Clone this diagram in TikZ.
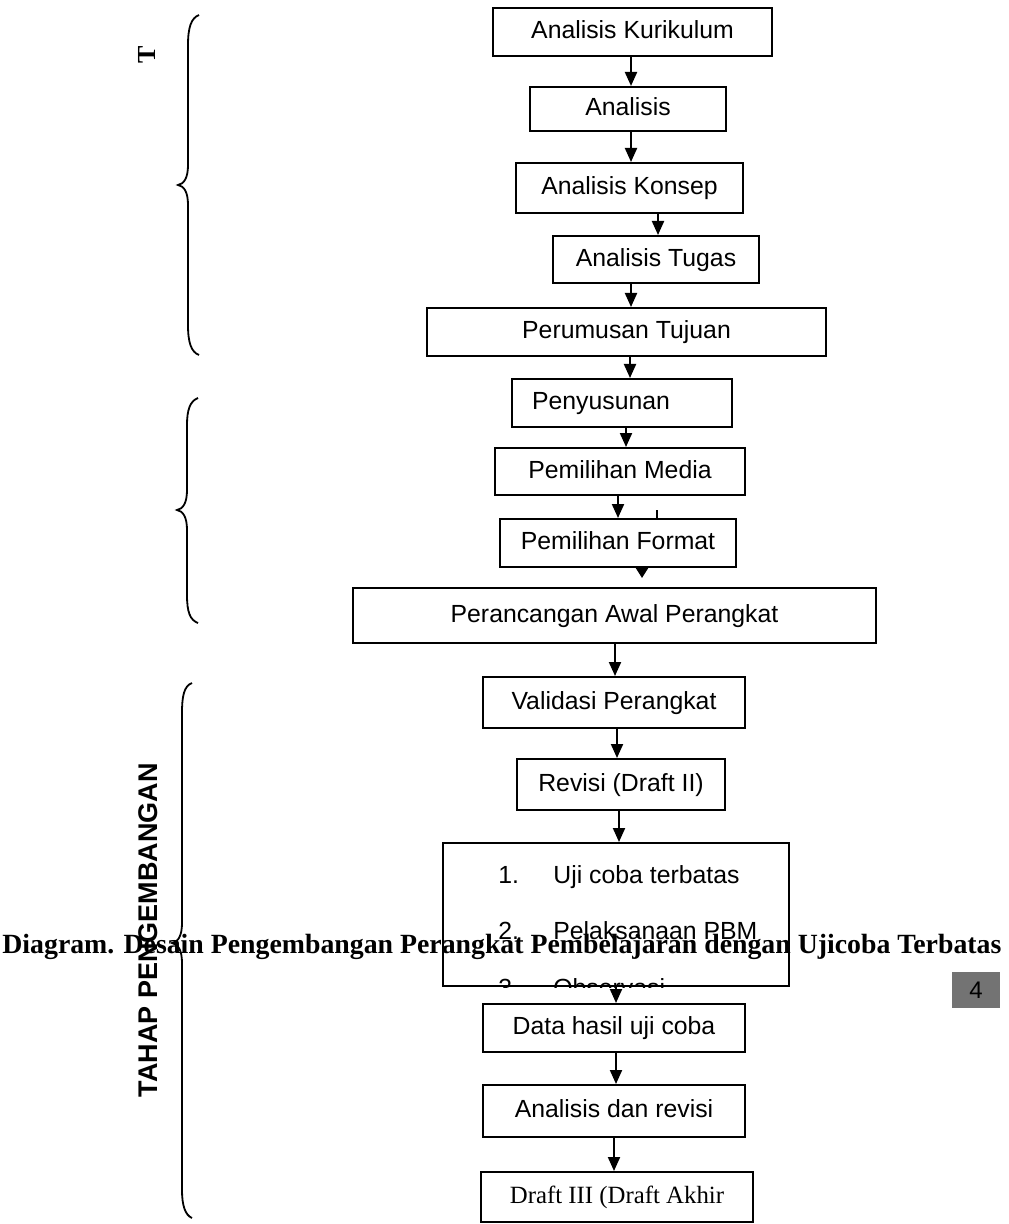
\documentclass[tikz,border=0pt]{standalone}
\usepackage{fontspec}
\setmainfont{Liberation Serif}
\setsansfont{Liberation Sans}
\usetikzlibrary{arrows.meta,calc}
\tikzset{
  px/.style={x=0.5pt,y=-0.5pt},
  box/.style={draw, line width=1pt, inner sep=0pt, fill=white,
    font=\sffamily\fontsize{12.4}{14}\selectfont, text height=9.2pt, text depth=2.6pt},
  arr/.style={line width=1pt, -{Triangle[length=7pt,width=6pt]}},
  stub/.style={line width=1pt, -{Triangle[length=5pt,width=6pt]}},
  brace/.style={line width=0.9pt},
  item/.style={anchor=base west, inner sep=0pt, font=\sffamily\fontsize{12.4}{14}\selectfont},
}
\newcommand{\boxnode}[6]{%
  \node[box, minimum width={(#3-#2)*0.5}, minimum height={(#5-#4)*0.5}] (#1) at ({(#2+#3)/2},{(#4+#5)/2}) {#6};}
\begin{document}
\begin{tikzpicture}[px]
\useasboundingbox (0,0) rectangle (1008,1224);
% boxes
\boxnode{kur}{493}{772}{8}{56}{Analisis Kurikulum}
\boxnode{ana}{530}{726}{87}{131}{Analisis}
\boxnode{kon}{516}{743}{163}{213}{Analisis Konsep}
\boxnode{tug}{553}{759}{236}{283}{Analisis Tugas}
\boxnode{per}{427}{826}{308}{356}{Perumusan Tujuan}
\boxnode{pen}{512}{732}{379}{427}{}
\node[box, draw=none, fill=none] (pentxt) at ([xshift=-10.5pt]pen.center) {Penyusunan};
\boxnode{med}{495}{745}{448}{495}{Pemilihan Media}
\boxnode{fmt}{500}{736}{519}{567}{Pemilihan Format}
\boxnode{ran}{353}{876}{588}{643}{Perancangan Awal Perangkat}
\boxnode{val}{483}{745}{677}{728}{Validasi Perangkat}
\boxnode{rev}{517}{725}{759}{810}{Revisi (Draft II)}
\boxnode{uji}{443}{789}{843}{986}{}
\boxnode{dat}{483}{745}{1004}{1052}{Data hasil uji coba}
\boxnode{adr}{483}{745}{1085}{1137}{Analisis dan revisi}
\node[box, font=\rmfamily\fontsize{12.4}{14}\selectfont, minimum width=136pt, minimum height=25pt] (dra) at (617,1197) {Draft III (Draft Akhir};
% clipped list inside uji box
\begin{scope}
\clip (uji.south west) rectangle (uji.north east);
\node[item] (n1) at (498,883) {1.};
\node[item] (l1) at (553,883) {Uji coba terbatas};
\node[item] (n2) at (498,939) {2.};
\node[item] (l2) at (553,939) {Pelaksanaan PBM};
\node[item] (n3) at (498,996) {3.};
\node[item] (l3) at (553,996) {Observasi};
\end{scope}
% arrows
\draw[arr] (kur.south -| 631,0) -- (ana.north -| 631,0);
\draw[arr] (ana.south -| 631,0) -- (kon.north -| 631,0);
\draw[arr] (kon.south -| 658,0) -- (tug.north -| 658,0);
\draw[arr] (tug.south -| 631,0) -- (per.north -| 631,0);
\draw[arr] (per.south -| 630,0) -- (pen.north -| 630,0);
\draw[arr] (pen.south -| 626,0) -- (med.north -| 626,0);
\draw[arr] (med.south -| 618,0) -- (fmt.north -| 618,0);
\coordinate (tick) at (fmt.north -| 657,0);
\draw[line width=1pt] (tick) -- ++(0,-8);
\coordinate (stubend) at ([yshift=-5pt]fmt.south -| 642,0);
\draw[stub] (fmt.south -| 642,0) -- (stubend);
\draw[arr] (ran.south -| 615,0) -- (val.north -| 615,0);
\draw[arr] (val.south -| 617,0) -- (rev.north -| 617,0);
\draw[arr] (rev.south -| 619,0) -- (uji.north -| 619,0);
\draw[arr] (uji.south -| 616,0) -- (dat.north -| 616,0);
\draw[arr] (dat.south -| 616,0) -- (adr.north -| 616,0);
\draw[arr] (adr.south -| 614,0) -- (dra.north -| 614,0);
% braces
\draw[brace] (199,15) .. controls (191,18) and (188,28) .. (188,45) -- (188,165)
  .. controls (188,178) and (184,184) .. (178,185)
  .. controls (184,186) and (188,192) .. (188,205) -- (188,325)
  .. controls (188,342) and (191,352) .. (199,355);
\draw[brace] (198,398) .. controls (190,401) and (187,410) .. (187,425) -- (187,490)
  .. controls (187,503) and (183,509) .. (177,510)
  .. controls (183,511) and (187,517) .. (187,530) -- (187,595)
  .. controls (187,612) and (190,620) .. (198,623);
\draw[brace] (192,683) .. controls (184,686) and (182,696) .. (182,713) -- (182,923)
  .. controls (182,936) and (178,942) .. (172,943)
  .. controls (178,944) and (182,950) .. (182,963) -- (182,1190)
  .. controls (182,1205) and (185,1215) .. (192,1218);
% side labels
\node[rotate=90, inner sep=0pt, font=\bfseries\fontsize{13}{14}\selectfont] (tlab) at (147,55) {T};
\node[rotate=90, inner sep=0pt, font=\sffamily\bfseries\fontsize{13.5}{15}\selectfont] (tahap) at (148,930) {TAHAP PENGEMBANGAN};
% caption
\node[anchor=base west, inner sep=0pt, font=\bfseries\fontsize{13.9}{16}\selectfont] (cap) at (2,953) {Diagram. Desain Pengembangan Perangkat Pembelajaran dengan Ujicoba Terbatas};
% page number
\node[fill=black!55, minimum width=24pt, minimum height=18pt, inner sep=0pt, font=\sffamily\fontsize{12}{14}\selectfont] (pg) at (976,990) {4};
\end{tikzpicture}
\end{document}
